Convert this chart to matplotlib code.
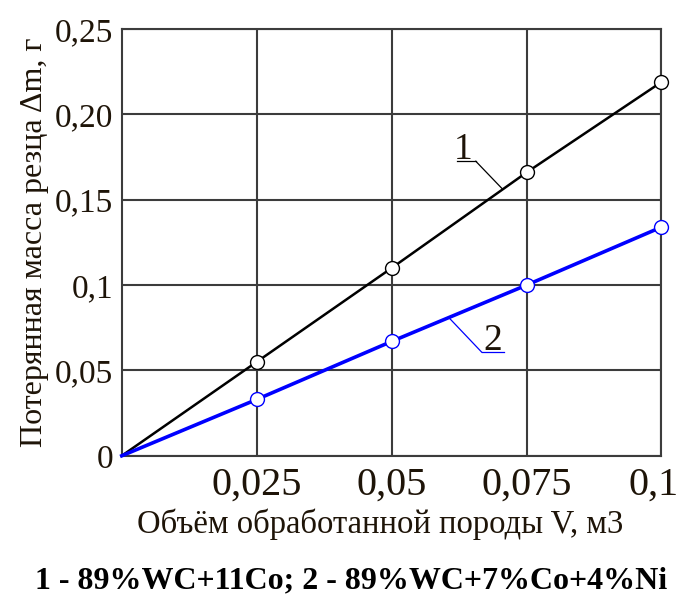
import matplotlib
matplotlib.use('Agg')
import matplotlib.pyplot as plt
import matplotlib.transforms as mtransforms
import numpy as np

plt.rcParams['font.family'] = ['Liberation Serif', 'DejaVu Serif']

# объём породы, м3
volume = [0.0, 0.025, 0.05, 0.075, 0.1]
# потеря массы резца, г
loss_1 = [0.0, 0.055, 0.110, 0.166, 0.219]   # 89%WC+11Co
loss_2 = [0.0, 0.033, 0.067, 0.100, 0.134]   # 89%WC+7%Co+4%Ni

x_ticks = [0.025, 0.05, 0.075, 0.1]
x_tick_labels = ['0,025', '0,05', '0,075', '0,1']
y_ticks = [0, 0.05, 0.1, 0.15, 0.2, 0.25]
y_tick_labels = ['0', '0,05', '0,1', '0,15', '0,20', '0,25']

fig = plt.figure(figsize=(6.84, 5.95), dpi=100)
ax = fig.add_axes([0.178, 0.234, 0.789, 0.717])

grid_col = '#3c3c3c'
text_col = '#1e1408'

# в начале координат маркера нет
ax.plot(volume, loss_1, color='black', lw=1.8, marker='o', ms=10, markevery=[1, 2, 3, 4],
        mfc='white', mec='black', mew=1.0, zorder=3, clip_on=False)
ax.plot(volume, loss_2, color='#0000ff', lw=2.6, marker='o', ms=10, markevery=[1, 2, 3, 4],
        mfc='white', mec='#0000ff', mew=1.0, zorder=3, clip_on=False)

ax.set_xlim(0, 0.1)
ax.set_ylim(0, 0.25)
ax.set_xticks(x_ticks)
ax.set_xticklabels(x_tick_labels, fontsize=29, color=text_col)
ax.set_yticks(y_ticks)
ax.set_yticklabels(y_tick_labels, fontsize=24, color=text_col)
ax.tick_params(axis='both', length=0)
ax.tick_params(axis='x', pad=8)
ax.tick_params(axis='y', pad=6)
ax.grid(True, color=grid_col, lw=1.5)
for s in ax.spines.values():
    s.set_color(grid_col)
    s.set_linewidth(1.5)

# последняя подпись сдвинута влево, как в оригинале
last = ax.get_xticklabels()[-1]
last.set_transform(last.get_transform() +
                   mtransforms.ScaledTranslation(-8 / 100, 0, fig.dpi_scale_trans))

ax.set_xlabel('Объём обработанной породы V, м3', fontsize=23.5, color=text_col, labelpad=3)
ax.xaxis.label.set_x(0.478)
ax.set_ylabel('Потерянная масса резца \u0394m, г', fontsize=23, color=text_col, labelpad=4)

# выноски с номерами кривых
def leader(num, tx, ty, ux0, ux1, x_on, xs, ys, col):
    y_on = np.interp(x_on, xs, ys)
    ax.text(tx, ty, num, fontsize=27, color=text_col, ha='center', va='baseline')
    uy = ty - 0.0012
    ax.plot([ux0, ux1], [uy, uy], color=col, lw=0.9)
    start = ux1 if x_on > ux1 else ux0
    ax.plot([start, x_on], [uy, y_on], color=col, lw=0.9)

leader('1', 0.0632, 0.1738, 0.0621, 0.0656, 0.0706, volume, loss_1, 'black')
leader('2', 0.0688, 0.0619, 0.0667, 0.0708, 0.0606, volume, loss_2, '#0000ff')

fig.text(0.514, 0.011, '1 - 89%WC+11Co; 2 - 89%WC+7%Co+4%Ni', fontsize=23,
         family='Liberation Serif', fontweight='bold', ha='center', va='baseline',
         color='black')

fig.savefig('out.png', dpi=100)
